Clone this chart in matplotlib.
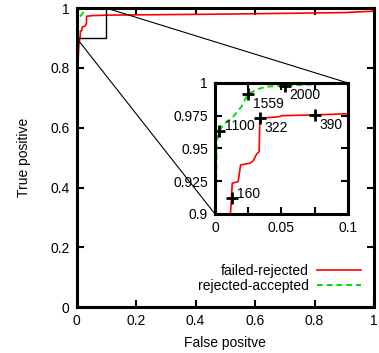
import matplotlib
matplotlib.use("Agg")
import matplotlib.pyplot as plt
from matplotlib.patches import Rectangle, ConnectionPatch

plt.rcParams['font.family'] = ['Liberation Sans', 'DejaVu Sans']
plt.rcParams['font.size'] = 10

# ROC curve points
fr_fpr = [0.0, 0.0, 0.002, 0.004, 0.008, 0.0118, 0.0125, 0.0130, 0.0175, 0.0193, 0.0263,
          0.0288, 0.0313, 0.0333, 0.0338, 0.0489, 0.0501, 0.075, 0.1, 0.5, 0.9, 1.0]
fr_tpr = [0.0, 0.4, 0.6, 0.8, 0.88, 0.9018, 0.912, 0.9234, 0.9247, 0.9374, 0.9387,
          0.9405, 0.9456, 0.9476, 0.973, 0.9743, 0.975, 0.9756, 0.9765, 0.98, 0.985, 0.99]

ra_fpr = [0.0, 0.0, 0.0008, 0.0013, 0.0033, 0.0063, 0.0138, 0.02, 0.0238,
          0.025, 0.0326, 0.0388, 0.0526, 0.1, 1.0]
ra_tpr = [0.0, 0.88, 0.9, 0.955, 0.9634, 0.968, 0.9743, 0.982, 0.9895,
          0.9916, 0.9954, 0.9972, 0.998, 1.0, 1.0]

# threshold markers in the inset
fr_mark_x = [0.0125, 0.0338, 0.075]
fr_mark_y = [0.912, 0.973, 0.9756]
fr_mark_lab = ['160', '322', '390']
ra_mark_x = [0.0033, 0.025, 0.0526]
ra_mark_y = [0.9634, 0.9916, 0.998]
ra_mark_lab = ['1100', '1559', '2000']

red = '#ff0000'
green = '#00dd00'

fig = plt.figure(figsize=(3.79, 3.53), dpi=100)
ax = fig.add_axes([0.202, 0.130, 0.785, 0.847])

ax.plot(fr_fpr, fr_tpr, color=red, lw=1.2, label='failed-rejected')
ax.plot(ra_fpr, ra_tpr, color=green, lw=1.4, ls=(0, (3, 2)), label='rejected-accepted')
ax.set_xlim(0, 1)
ax.set_ylim(0, 1)
ax.set_xticks([0, 0.2, 0.4, 0.6, 0.8, 1])
ax.set_xticklabels(['0', '0.2', '0.4', '0.6', '0.8', '1'])
ax.set_yticks([0, 0.2, 0.4, 0.6, 0.8, 1])
ax.set_yticklabels(['0', '0.2', '0.4', '0.6', '0.8', '1'])
ax.tick_params(direction='in', length=5, width=1.5, top=True, right=True, pad=5)
for s in ax.spines.values():
    s.set_linewidth(2.2)
ax.set_xlabel('False positve', labelpad=6)
ax.set_ylabel('True positive', labelpad=14)

ax.add_patch(Rectangle((0, 0.9), 0.1, 0.1, fill=False, ec='black', lw=1, zorder=3))

leg = ax.legend(loc='lower right', bbox_to_anchor=(0.985, 0.02), frameon=False,
                markerfirst=False, handlelength=3.2, handletextpad=0.6,
                labelspacing=0.05, borderaxespad=0.2)

# inset
ins = fig.add_axes([0.567, 0.394, 0.351, 0.371])
ins.plot(fr_fpr, fr_tpr, color=red, lw=1.2)
ins.plot(ra_fpr, ra_tpr, color=green, lw=1.4, ls=(0, (3, 2)))
ins.plot(fr_mark_x, fr_mark_y, ls='none', marker='+', ms=8, mew=2, color='black')
ins.plot(ra_mark_x, ra_mark_y, ls='none', marker='+', ms=8, mew=2, color='black')
for x, y, t in zip(fr_mark_x + ra_mark_x, fr_mark_y + ra_mark_y, fr_mark_lab + ra_mark_lab):
    if t in ('160', '1100'):
        ins.annotate(t, (x, y), xytext=(3.8, 3.2), textcoords='offset points', va='center', ha='left')
    else:
        ins.annotate(t, (x, y), xytext=(3.5, -7), textcoords='offset points', va='center', ha='left')
ins.set_xlim(0, 0.1)
ins.set_ylim(0.9, 1)
ins.set_xticks([0, 0.025, 0.05, 0.075, 0.1])
ins.set_xticklabels(['0', '', '0.05', '', '0.1'])
ins.set_yticks([0.9, 0.925, 0.95, 0.975, 1])
ins.set_yticklabels(['0.9', '0.925', '0.95', '0.975', '1'])
ins.tick_params(direction='in', length=5, width=1.5, top=True, right=True, pad=5)
for s in ins.spines.values():
    s.set_linewidth(2.2)

for xy in [(0.1, 1.0), (0.0, 0.9)]:
    con = ConnectionPatch(xyA=xy, coordsA=ax.transData, xyB=xy, coordsB=ins.transData,
                          color='black', lw=0.8)
    fig.add_artist(con)

fig.savefig('out.png', dpi=100)
